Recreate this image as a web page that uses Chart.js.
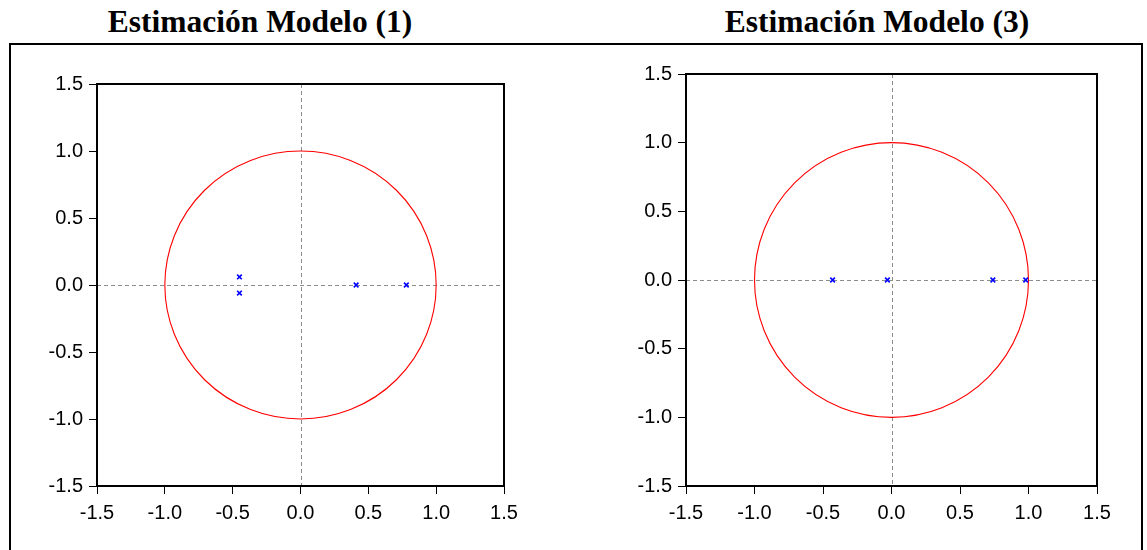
<!DOCTYPE html>
<html>
<head>
<meta charset="utf-8">
<script src="https://cdn.jsdelivr.net/npm/chart.js@4.4.1/dist/chart.umd.min.js"></script>
<style>
  html, body { margin: 0; padding: 0; background: #fff; width: 1147px; height: 550px; overflow: hidden; }
  .frame { position: absolute; left: 9px; top: 43px; width: 1134px; height: 520px; border: 2px solid #000; box-sizing: border-box; }
  .title { position: absolute; top: 4px; font-family: "Liberation Serif", "Times New Roman", serif; font-weight: bold; font-size: 31.5px; color: #000; white-space: nowrap; transform: translateX(-50%); }
  canvas { position: absolute; top: 0; }
</style>
</head>
<body>
<div class="frame"></div>
<div class="title" style="left:260px">Estimación Modelo (1)</div>
<div class="title" style="left:877px">Estimación Modelo (3)</div>
<canvas id="c1" style="left:0px" width="560" height="550"></canvas>
<canvas id="c2" style="left:580px" width="567" height="550"></canvas>
<script>
// ---- data ----
const axisMin = -1.5;
const axisMax = 1.5;
const axisStep = 0.5;
const unitCircleRadius = 1;
const model1RootsRe = [-0.45, -0.45, 0.41, 0.78];
const model1RootsIm = [0.06, -0.06, 0.0, 0.0];
const model3RootsRe = [-0.43, -0.03, 0.74, 0.98];
const model3RootsIm = [0.0, 0.0, 0.0, 0.0];

const decoPlugin = {
  id: 'deco',
  beforeDatasetsDraw(chart) {
    const ctx = chart.ctx, a = chart.chartArea;
    const xs = chart.scales.x, ys = chart.scales.y;
    const x0 = xs.getPixelForValue(0), y0 = ys.getPixelForValue(0);
    ctx.save();
    ctx.strokeStyle = '#8c8c8c';
    ctx.lineWidth = 1;
    ctx.setLineDash([4, 3]);
    ctx.beginPath();
    ctx.moveTo(a.left, Math.round(y0) + 0.5); ctx.lineTo(a.right, Math.round(y0) + 0.5);
    ctx.moveTo(Math.round(x0) + 0.5, a.top); ctx.lineTo(Math.round(x0) + 0.5, a.bottom);
    ctx.stroke();
    ctx.setLineDash([]);
    const rx = xs.getPixelForValue(unitCircleRadius) - x0;
    const ry = y0 - ys.getPixelForValue(unitCircleRadius);
    ctx.strokeStyle = '#ff0000';
    ctx.lineWidth = 1.1;
    ctx.beginPath();
    ctx.ellipse(x0, y0, rx, ry, 0, 0, Math.PI * 2);
    ctx.stroke();
    ctx.restore();
  },
  afterDatasetsDraw(chart) {
    const ctx = chart.ctx, a = chart.chartArea;
    ctx.save();
    ctx.strokeStyle = '#000';
    ctx.lineWidth = 2;
    ctx.strokeRect(a.left, a.top, a.right - a.left, a.bottom - a.top);
    ctx.restore();
  }
};

function makeChart(id, re, im, yAxisWidth, padTop, padRight) {
  const pts = re.map((v, i) => ({ x: v, y: im[i] }));
  const tickFont = { family: '"Liberation Sans", Arial, sans-serif', size: 20 };
  return new Chart(document.getElementById(id), {
    type: 'scatter',
    data: {
      datasets: [{
        data: pts,
        pointStyle: 'crossRot',
        pointRadius: 3.3,
        pointBorderWidth: 1.6,
        borderColor: '#0000ff',
        backgroundColor: '#0000ff'
      }]
    },
    options: {
      responsive: false,
      animation: false,
      events: [],
      layout: { padding: { top: padTop, right: padRight, left: 0, bottom: 0 } },
      plugins: { legend: { display: false }, tooltip: { enabled: false }, title: { display: false } },
      scales: {
        x: {
          type: 'linear', min: axisMin, max: axisMax,
          border: { display: false },
          grid: { drawOnChartArea: false, drawTicks: true, tickLength: 8, color: '#000', lineWidth: 1 },
          ticks: { stepSize: axisStep, color: '#000', font: tickFont, padding: 7, maxRotation: 0,
                   callback: v => Number(v).toFixed(1) },
          afterFit: s => { s.height = 64; }
        },
        y: {
          type: 'linear', min: axisMin, max: axisMax,
          border: { display: false },
          grid: { drawOnChartArea: false, drawTicks: true, tickLength: 8, color: '#000', lineWidth: 1 },
          ticks: { stepSize: axisStep, color: '#000', font: tickFont, padding: 6,
                   callback: v => Number(v).toFixed(1) },
          afterFit: s => { s.width = yAxisWidth; }
        }
      }
    },
    plugins: [decoPlugin]
  });
}

makeChart('c1', model1RootsRe, model1RootsIm, 97, 84, 56);
makeChart('c2', model3RootsRe, model3RootsIm, 106, 74, 50);
</script>
</body>
</html>
